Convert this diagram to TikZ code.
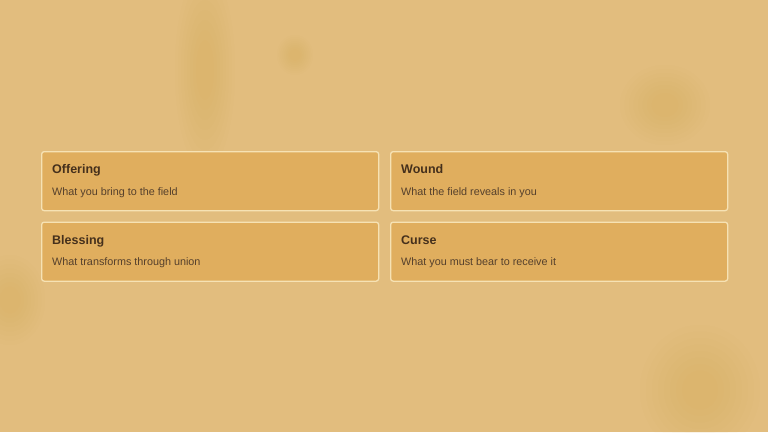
\documentclass[tikz,border=0pt]{standalone}
\usepackage{fontspec}
\setmainfont{Liberation Sans}
\definecolor{bgc}{HTML}{E2BD7E}
\definecolor{blob}{HTML}{DCA448}
\definecolor{cardfill}{HTML}{E0AE5E}
\definecolor{cardline}{HTML}{F6E2B4}
\definecolor{titlec}{HTML}{45301C}
\definecolor{subc}{HTML}{55402C}
\begin{document}
\begin{tikzpicture}[x=1pt,y=-1pt,
  card/.style={draw=cardline, line width=1.3pt, fill=cardfill, rounded corners=2.5pt, minimum width=337pt, minimum height=59pt, inner sep=0pt, anchor=north west},
  ttl/.style={anchor=base west, font=\fontsize{12.5}{14}\selectfont\bfseries, text=titlec, inner sep=0pt},
  sub/.style={anchor=base west, font=\fontsize{10.8}{12}\selectfont, text=subc, inner sep=0pt}]
\useasboundingbox (0,0) rectangle (768,432);
\fill[bgc] (0,0) rectangle (768,432);
% soft background blobs
\foreach \r in {1,0.9,...,0.2} {
  \fill[blob, opacity=0.035] (205,70) ellipse ({30*\r} and {100*\r});
  \fill[blob, opacity=0.035] (665,105) ellipse ({45*\r} and {40*\r});
  \fill[blob, opacity=0.035] (700,390) ellipse ({60*\r} and {65*\r});
  \fill[blob, opacity=0.035] (10,300) ellipse ({35*\r} and {45*\r});
  \fill[blob, opacity=0.03] (295,55) ellipse ({18*\r} and {20*\r});
}
\node[card] (c1) at (41,151) {};
\node[card] (c2) at (390,151) {};
\node[card] (c3) at (41,221.5) {};
\node[card] (c4) at (390,221.5) {};
\node[ttl] (t1) at ([xshift=11pt,yshift=-22.5pt]c1.north west) {Offering};
\node[sub] (s1) at ([xshift=11pt,yshift=-44pt]c1.north west) {What you bring to the field};
\node[ttl] (t2) at ([xshift=11pt,yshift=-22.5pt]c2.north west) {Wound};
\node[sub] (s2) at ([xshift=11pt,yshift=-44pt]c2.north west) {What the field reveals in you};
\node[ttl] (t3) at ([xshift=11pt,yshift=-22.5pt]c3.north west) {Blessing};
\node[sub] (s3) at ([xshift=11pt,yshift=-44pt]c3.north west) {What transforms through union};
\node[ttl] (t4) at ([xshift=11pt,yshift=-22.5pt]c4.north west) {Curse};
\node[sub] (s4) at ([xshift=11pt,yshift=-44pt]c4.north west) {What you must bear to receive it};
\end{tikzpicture}
\end{document}
